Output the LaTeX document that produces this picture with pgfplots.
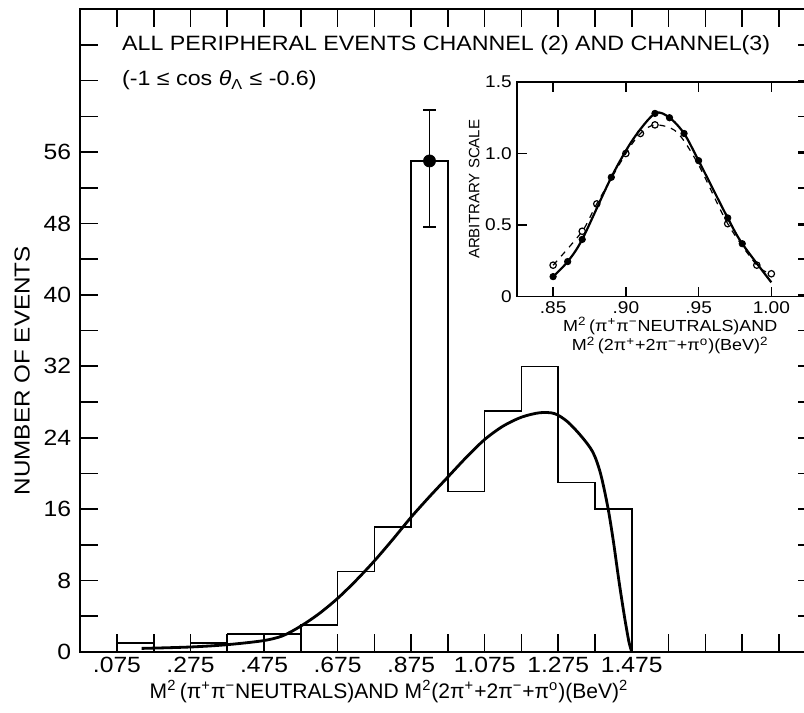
\documentclass[border=0pt]{standalone}
\usepackage{fontspec}
\setmainfont{Liberation Sans}
\newfontfamily\wf[FakeStretch=1.12]{Liberation Sans}
\usepackage{pgfplots}
\pgfplotsset{compat=1.18}

\begin{document}
\begin{tikzpicture}
\begin{axis}[
  width=367pt, height=320.75pt, scale only axis,
  xmin=-0.025, xmax=1.975, ymin=0, ymax=72,
  clip=false,
  axis line style={line width=0.9pt},
  tick align=inside,
  major tick length=9pt,
  tick style={line width=0.8pt, black},
  xtick={-0.025,0.075,0.175,0.275,0.375,0.475,0.575,0.675,0.775,0.875,0.975,1.075,1.175,1.275,1.375,1.475,1.575,1.675,1.775,1.875,1.975},
  xticklabels={,.075,,.275,,.475,,.675,,.875,,1.075,,1.275,,1.475},
  ytick={0,4,...,68},
  yticklabels={0,,8,,16,,24,,32,,40,,48,,56},
  ticklabel style={font=\wf\fontsize{11}{13}\selectfont},
  xticklabel style={yshift=1pt},
  yticklabel style={xshift=-1pt},
  xlabel={M\textsuperscript{2}\,(π\textsuperscript{+}π\textsuperscript{−}NEUTRALS)AND M\textsuperscript{2}(2π\textsuperscript{+}+2π\textsuperscript{−}+π\textsuperscript{o})(BeV)\textsuperscript{2}},
  ylabel={NUMBER OF EVENTS},
  xlabel style={font=\fontsize{10.5}{12}\selectfont, at={(axis description cs:0.42,-0.0613)}, anchor=center},
  ylabel style={font=\wf\fontsize{10.8}{13}\selectfont, at={(axis description cs:-0.079,0.4376)}, anchor=center},
]
% histogram (bin left edges, counts)
\addplot[const plot, line width=0.75pt, black] coordinates {
  (0.075,0) (0.075,1) (0.175,0) (0.275,1) (0.375,2) (0.475,2) (0.575,3)
  (0.675,9) (0.775,14) (0.875,55) (0.975,18) (1.075,27) (1.175,32)
  (1.275,19) (1.375,16) (1.475,16) (1.475,0)
};
% peak bin with its error bar
\addplot[only marks, mark=*, mark size=3pt, black,
  error bars/.cd, y dir=both, y explicit,
  error bar style={line width=0.7pt},
  error mark options={line width=0.7pt, mark size=3.2pt, rotate=90}]
  coordinates {(0.925,55) += (0,5.7) -= (0,7.4)};
% fitted curve
\addplot[smooth, line width=1.4pt, black] coordinates {
  (0.142,0.4) (0.27,0.55) (0.37,0.8) (0.47,1.25) (0.525,1.8) (0.575,2.9)
  (0.625,4.3) (0.675,6.0) (0.725,8.0) (0.775,10.2) (0.825,12.6) (0.875,15.1)
  (0.925,17.4) (0.975,19.6) (1.025,21.8) (1.075,23.8) (1.125,25.3)
  (1.175,26.3) (1.225,26.8) (1.265,26.7) (1.30,25.8) (1.337,24.2)
  (1.369,22.4) (1.39,20.0) (1.41,16.2) (1.425,12.4) (1.44,8.0)
  (1.455,4.0) (1.467,1.2) (1.475,0)
};
\node[anchor=west, inner sep=0pt, font=\wf\fontsize{10.35}{12}\selectfont] at (axis cs:0.088,68)
  {ALL PERIPHERAL EVENTS CHANNEL (2) AND CHANNEL(3)};
\node[anchor=west, inner sep=0pt, font=\wf\fontsize{10.35}{12}\selectfont] at (axis cs:0.088,64)
  {(-1 ≤ cos \textit{θ}\textsubscript{Λ} ≤ -0.6)};
\coordinate (inset) at (axis cs:1.1622,39.8);
\coordinate (bbSW) at (axis cs:-0.243,-6.77);
\coordinate (bbNE) at (axis cs:1.9434,73.03);
\end{axis}

\begin{axis}[
  at={(inset)}, anchor=south west,
  width=145.2pt, height=107.15pt, scale only axis,
  xmin=0.825, xmax=1.025, ymin=0, ymax=1.5,
  axis line style={line width=0.8pt},
  tick align=inside,
  major tick length=5pt,
  tick style={line width=0.7pt, black},
  xtick={0.85,0.9,0.95,1.0},
  xticklabels={.85,.90,.95,1.00},
  ytick={0,0.5,1,1.5},
  yticklabels={0,0.5,1.0,1.5},
  ticklabel style={font=\wf\fontsize{8.5}{9.5}\selectfont},
  xticklabel style={yshift=1pt},
  yticklabel style={xshift=1pt},
  xlabel={M\textsuperscript{2}\,(π\textsuperscript{+}π\textsuperscript{−}NEUTRALS)AND\\M\textsuperscript{2}\,(2π\textsuperscript{+}+2π\textsuperscript{−}+π\textsuperscript{o})(BeV)\textsuperscript{2}},
  ylabel={ARBITRARY SCALE},
  xlabel style={font=\wf\fontsize{8}{8.6}\selectfont, align=center, yshift=5pt, xshift=4pt},
  ylabel style={font=\fontsize{7.5}{8.5}\selectfont, yshift=-4pt},
]
\addplot[smooth, line width=1.1pt, black] coordinates {
  (0.85,0.14) (0.86,0.245) (0.87,0.40) (0.89,0.834) (0.905,1.1) (0.92,1.28)
  (0.93,1.25) (0.94,1.14) (0.95,0.95) (0.97,0.55) (0.98,0.37) (1.0,0.10)
};
\addplot[only marks, mark=*, mark size=1.6pt, black] coordinates {
  (0.85,0.14) (0.86,0.245) (0.87,0.40) (0.89,0.834) (0.92,1.28)
  (0.93,1.25) (0.94,1.14) (0.95,0.95) (0.97,0.55) (0.98,0.37)
};
\addplot[smooth, dashed, line width=0.6pt, black] coordinates {
  (0.85,0.22) (0.87,0.457) (0.88,0.648) (0.90,1.0) (0.91,1.14) (0.92,1.20)
  (0.935,1.15) (0.95,0.92) (0.97,0.51) (0.99,0.22) (1.0,0.16)
};
\addplot[only marks, mark=o, mark size=1.6pt, black, mark options={fill=white, line width=0.6pt}] coordinates {
  (0.85,0.22) (0.87,0.457) (0.88,0.648) (0.90,1.0) (0.91,1.14) (0.92,1.20)
  (0.97,0.51) (0.99,0.22) (1.0,0.16)
};
\end{axis}
\pgfresetboundingbox
\path[use as bounding box] (bbSW) rectangle (bbNE);
\end{tikzpicture}
\end{document}
